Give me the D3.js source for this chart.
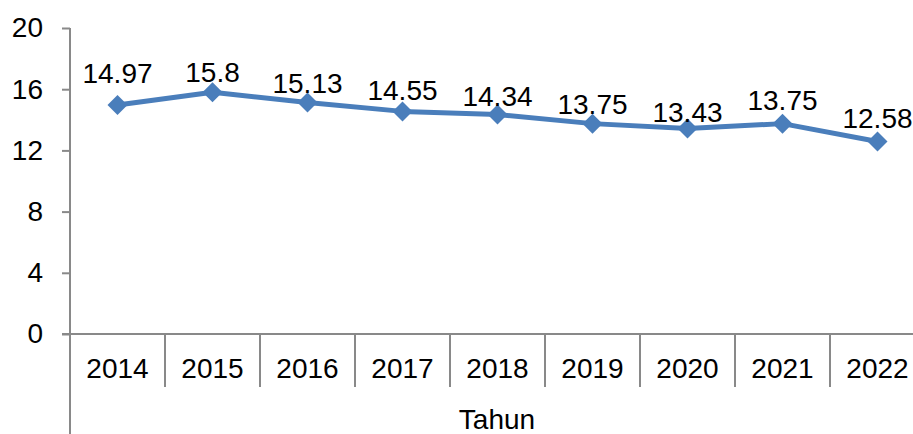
<!DOCTYPE html>
<html>
<head>
<meta charset="utf-8">
<script src="https://cdn.jsdelivr.net/npm/d3@7/dist/d3.min.js"></script>
<style>
  html, body { margin: 0; padding: 0; background: #fff; }
  svg { display: block; }
  text { font-family: "Liberation Sans", Arial, sans-serif; fill: #000; }
</style>
</head>
<body>
<svg id="chart" width="913" height="434"></svg>
<script>
// ---- data ----
const years = ["2014", "2015", "2016", "2017", "2018", "2019", "2020", "2021", "2022"];
const values = [14.97, 15.8, 15.13, 14.55, 14.34, 13.75, 13.43, 13.75, 12.58];
const valueLabels = ["14.97", "15.8", "15.13", "14.55", "14.34", "13.75", "13.43", "13.75", "12.58"];
const yTicks = [0, 4, 8, 12, 16, 20];
const xTitle = "Tahun";

// ---- layout (not data) ----
const labelNudge = [-12, 0, 0, -1, 1, 0, 3, -4, -4];
const W = 913, H = 434;
const mLeft = 70, mTop = 28, mBottom = 334, bandW = 95;

const svg = d3.select("#chart");
const axisColor = "#898989";
const lineColor = "#4a7ebb";

const x = d3.scaleBand().domain(years).range([mLeft, mLeft + bandW * years.length]).padding(0);
const y = d3.scaleLinear().domain([0, 20]).range([mBottom, mTop]);

// y axis
const yAxis = d3.axisLeft(y).tickValues(yTicks).tickSize(8).tickPadding(19).tickFormat(d3.format("d"));
const gy = svg.append("g").attr("transform", `translate(${mLeft},0)`).call(yAxis);
gy.select(".domain").remove();
gy.selectAll(".tick line").attr("stroke", axisColor).attr("stroke-width", 2);
gy.selectAll(".tick text").attr("font-size", 28).attr("fill", "#000")
  .attr("font-family", '"Liberation Sans", Arial, sans-serif');
// y axis spine extending below
svg.append("line").attr("x1", mLeft).attr("x2", mLeft).attr("y1", mTop).attr("y2", H)
  .attr("stroke", axisColor).attr("stroke-width", 2);

// x axis line
svg.append("line").attr("x1", mLeft - 8).attr("x2", W).attr("y1", mBottom).attr("y2", mBottom)
  .attr("stroke", axisColor).attr("stroke-width", 2);

// category separators
svg.append("g").selectAll("line").data(years)
  .join("line")
  .attr("x1", d => x(d) + x.bandwidth())
  .attr("x2", d => x(d) + x.bandwidth())
  .attr("y1", mBottom).attr("y2", 387)
  .attr("stroke", axisColor).attr("stroke-width", 2);

// category labels
svg.append("g").selectAll("text").data(years).join("text")
  .attr("x", d => x(d) + x.bandwidth() / 2)
  .attr("y", 378)
  .attr("text-anchor", "middle")
  .attr("font-size", 28)
  .text(d => d);

// axis title
svg.append("text").attr("x", 497).attr("y", 429).attr("text-anchor", "middle")
  .attr("font-size", 28).text(xTitle);

// line
const line = d3.line().x((d, i) => x(years[i]) + x.bandwidth() / 2).y(d => y(d));
svg.append("path").datum(values).attr("d", line)
  .attr("fill", "none").attr("stroke", lineColor).attr("stroke-width", 5)
  .attr("stroke-linejoin", "round");

// markers (diamonds)
svg.append("g").selectAll("path").data(values).join("path")
  .attr("transform", (d, i) => `translate(${x(years[i]) + x.bandwidth() / 2},${y(d)})`)
  .attr("d", "M0,-10 L10,0 L0,10 L-10,0 Z")
  .attr("fill", lineColor);

// data labels
svg.append("g").selectAll("text").data(values).join("text")
  .attr("x", (d, i) => x(years[i]) + x.bandwidth() / 2)
  .attr("y", (d, i) => y(d) - 10 + labelNudge[i])
  .attr("text-anchor", "middle")
  .attr("font-size", 28)
  .text((d, i) => valueLabels[i]);
</script>
</body>
</html>
